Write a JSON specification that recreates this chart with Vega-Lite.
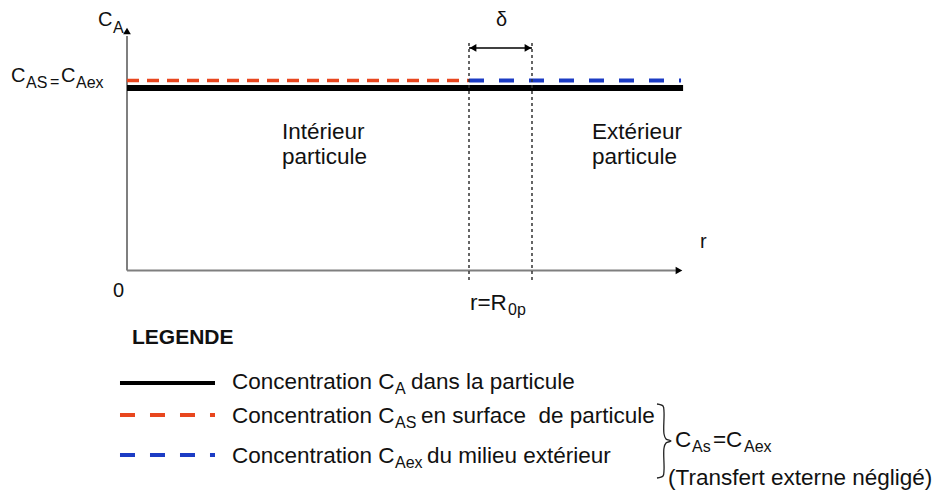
{
  "$schema": "https://vega.github.io/schema/vega-lite/v6.json",
  "width": 936,
  "height": 494,
  "padding": 0,
  "autosize": {"type": "none"},
  "background": "white",
  "config": {"view": {"stroke": null}, "text": {"font": "Liberation Sans"}},
  "datasets": {
    "lines": [
      {"id": "yaxis", "r": 0, "C": 0}, {"id": "yaxis", "r": 0, "C": 1.285},
      {"id": "xaxis", "r": 0, "C": 0}, {"id": "xaxis", "r": 1.605, "C": 0},
      {"id": "CA", "r": 0, "C": 1}, {"id": "CA", "r": 1.626, "C": 1},
      {"id": "CAS", "r": 0, "C": 1.041}, {"id": "CAS", "r": 1, "C": 1.041},
      {"id": "CAex", "r": 1, "C": 1.041}, {"id": "CAex", "r": 1.62, "C": 1.041},
      {"id": "R0p", "r": 1, "C": -0.052}, {"id": "R0p", "r": 1, "C": 1.263},
      {"id": "R0p+delta", "r": 1.1842, "C": -0.052}, {"id": "R0p+delta", "r": 1.1842, "C": 1.263},
      {"id": "delta", "r": 1.0, "C": 1.2192}, {"id": "delta", "r": 1.1842, "C": 1.2192},
      {"id": "legCA", "r": -0.0205, "C": -0.6164}, {"id": "legCA", "r": 0.2573, "C": -0.6164},
      {"id": "legCAS", "r": -0.0205, "C": -0.7918}, {"id": "legCAS", "r": 0.2573, "C": -0.7918},
      {"id": "legCAex", "r": -0.0205, "C": -1.011}, {"id": "legCAex", "r": 0.2573, "C": -1.011}
    ],
    "brace": [
      {"i": 0, "r": 1.5497, "C": -0.7315},
      {"i": 1, "r": 1.5673, "C": -0.7425},
      {"i": 2, "r": 1.5702, "C": -0.7753},
      {"i": 3, "r": 1.5702, "C": -0.8959},
      {"i": 4, "r": 1.576, "C": -0.9233},
      {"i": 5, "r": 1.5906, "C": -0.9342},
      {"i": 6, "r": 1.576, "C": -0.9452},
      {"i": 7, "r": 1.5702, "C": -0.9726},
      {"i": 8, "r": 1.5702, "C": -1.0932},
      {"i": 9, "r": 1.5673, "C": -1.126},
      {"i": 10, "r": 1.5497, "C": -1.137}
    ],
    "arrows": [
      {"dir": "up", "r": 0, "C": 1.3123},
      {"dir": "right", "r": 1.614, "C": 0},
      {"dir": "left", "r": 1.0117, "C": 1.2192},
      {"dir": "right", "r": 1.1725, "C": 1.2192}
    ],
    "texts": [
      {"kind": "axis", "text": "C", "r": -0.0848, "C": 1.3726},
      {"kind": "axsub", "text": "A", "r": -0.0409, "C": 1.3288},
      {"kind": "axis", "text": "r", "r": 1.6754, "C": 0.1562},
      {"kind": "axis", "text": "0", "r": -0.0409, "C": -0.1123},
      {"kind": "axis", "text": "δ", "r": 1.0789, "C": 1.3726},
      {"kind": "axis", "text": "C", "r": -0.3392, "C": 1.0658},
      {"kind": "axsub", "text": "AS", "r": -0.2953, "C": 1.0274},
      {"kind": "axsub", "text": "=", "r": -0.2251, "C": 1.0329},
      {"kind": "axis", "text": "C", "r": -0.193, "C": 1.0658},
      {"kind": "axsub", "text": "Aex", "r": -0.1491, "C": 1.0274},
      {"kind": "main", "text": "Intérieur", "r": 0.4532, "C": 0.7589},
      {"kind": "main", "text": "particule", "r": 0.4532, "C": 0.6219},
      {"kind": "main", "text": "Extérieur", "r": 1.3596, "C": 0.7589},
      {"kind": "main", "text": "particule", "r": 1.3596, "C": 0.6219},
      {"kind": "main", "text": "r=R", "r": 1.0029, "C": -0.1781},
      {"kind": "sub", "text": "0p", "r": 1.114, "C": -0.2164},
      {"kind": "title", "text": "LEGENDE", "r": 0.0146, "C": -0.3699},
      {"kind": "main", "text": "Concentration C", "r": 0.307, "C": -0.611},
      {"kind": "sub", "text": "A", "r": 0.7836, "C": -0.6493},
      {"kind": "main", "text": "dans la particule", "r": 0.8304, "C": -0.611},
      {"kind": "main", "text": "Concentration C", "r": 0.307, "C": -0.7973},
      {"kind": "sub", "text": "AS", "r": 0.7836, "C": -0.8356},
      {"kind": "main", "text": "en surface\u00a0 de particule", "r": 0.8596, "C": -0.7973},
      {"kind": "main", "text": "Concentration C", "r": 0.307, "C": -1.0164},
      {"kind": "sub", "text": "Aex", "r": 0.7836, "C": -1.0548},
      {"kind": "main", "text": "du milieu extérieur", "r": 0.8772, "C": -1.0164},
      {"kind": "main", "text": "C", "r": 1.6023, "C": -0.9288},
      {"kind": "sub", "text": "As", "r": 1.6520, "C": -0.9671},
      {"kind": "main", "text": "=C", "r": 1.7134, "C": -0.9288},
      {"kind": "sub", "text": "Aex", "r": 1.8041, "C": -0.9671},
      {"kind": "main", "text": "(Transfert externe négligé)", "r": 1.5819, "C": -1.137}
    ]
  },
  "encoding": {
    "x": {"field": "r", "type": "quantitative", "scale": {"domain": [-0.37135, 2.3655], "nice": false, "zero": false}, "axis": null},
    "y": {"field": "C", "type": "quantitative", "scale": {"domain": [-1.22466, 1.48219], "nice": false, "zero": false}, "axis": null}
  },
  "layer": [
    {"data": {"name": "lines"}, "transform": [{"filter": "datum.id === 'yaxis' || datum.id === 'xaxis'"}],
     "mark": {"type": "line", "color": "#7f7f7f", "strokeWidth": 2}, "encoding": {"detail": {"field": "id"}}},
    {"data": {"name": "lines"}, "transform": [{"filter": "datum.id === 'CA'"}],
     "mark": {"type": "line", "color": "#000000", "strokeWidth": 6, "strokeCap": "butt"}, "encoding": {}},
    {"data": {"name": "lines"}, "transform": [{"filter": "datum.id === 'CAS'"}],
     "mark": {"type": "line", "color": "#e8461e", "strokeWidth": 3.5, "strokeDash": [12, 8]}, "encoding": {}},
    {"data": {"name": "lines"}, "transform": [{"filter": "datum.id === 'CAex'"}],
     "mark": {"type": "line", "color": "#1c3cc4", "strokeWidth": 4, "strokeDash": [15, 15]}, "encoding": {}},
    {"data": {"name": "lines"}, "transform": [{"filter": "datum.id === 'R0p' || datum.id === 'R0p+delta'"}],
     "mark": {"type": "line", "color": "#333333", "strokeWidth": 1.5, "strokeDash": [3, 3]}, "encoding": {"detail": {"field": "id"}}},
    {"data": {"name": "lines"}, "transform": [{"filter": "datum.id === 'delta'"}],
     "mark": {"type": "line", "color": "#000000", "strokeWidth": 1.5}, "encoding": {}},
    {"data": {"name": "lines"}, "transform": [{"filter": "datum.id === 'legCA'"}],
     "mark": {"type": "line", "color": "#000000", "strokeWidth": 4}, "encoding": {}},
    {"data": {"name": "lines"}, "transform": [{"filter": "datum.id === 'legCAS'"}],
     "mark": {"type": "line", "color": "#e8461e", "strokeWidth": 4, "strokeDash": [15, 15]}, "encoding": {}},
    {"data": {"name": "lines"}, "transform": [{"filter": "datum.id === 'legCAex'"}],
     "mark": {"type": "line", "color": "#1c3cc4", "strokeWidth": 4, "strokeDash": [15, 15]}, "encoding": {}},
    {"data": {"name": "brace"},
     "mark": {"type": "line", "color": "#222222", "strokeWidth": 1.3, "interpolate": "catmull-rom"},
     "encoding": {"order": {"field": "i", "type": "quantitative"}}},
    {"data": {"name": "arrows"},
     "mark": {"type": "point", "filled": true, "color": "#000000", "size": 60, "opacity": 1},
     "encoding": {"shape": {"field": "dir", "type": "nominal", "scale": {"domain": ["up", "right", "left"], "range": ["triangle-up", "triangle-right", "triangle-left"]}, "legend": null}}},
    {"data": {"name": "texts"}, "transform": [{"filter": "datum.kind === 'main'"}],
     "mark": {"type": "text", "align": "left", "baseline": "middle", "fontSize": 22.5, "color": "#111111"},
     "encoding": {"text": {"field": "text"}}},
    {"data": {"name": "texts"}, "transform": [{"filter": "datum.kind === 'sub'"}],
     "mark": {"type": "text", "align": "left", "baseline": "middle", "fontSize": 16, "color": "#111111"},
     "encoding": {"text": {"field": "text"}}},
    {"data": {"name": "texts"}, "transform": [{"filter": "datum.kind === 'axis'"}],
     "mark": {"type": "text", "align": "left", "baseline": "middle", "fontSize": 20, "color": "#111111"},
     "encoding": {"text": {"field": "text"}}},
    {"data": {"name": "texts"}, "transform": [{"filter": "datum.kind === 'axsub'"}],
     "mark": {"type": "text", "align": "left", "baseline": "middle", "fontSize": 16, "color": "#111111"},
     "encoding": {"text": {"field": "text"}}},
    {"data": {"name": "texts"}, "transform": [{"filter": "datum.kind === 'title'"}],
     "mark": {"type": "text", "align": "left", "baseline": "middle", "fontSize": 21, "fontWeight": "bold", "color": "#111111"},
     "encoding": {"text": {"field": "text"}}}
  ]
}
